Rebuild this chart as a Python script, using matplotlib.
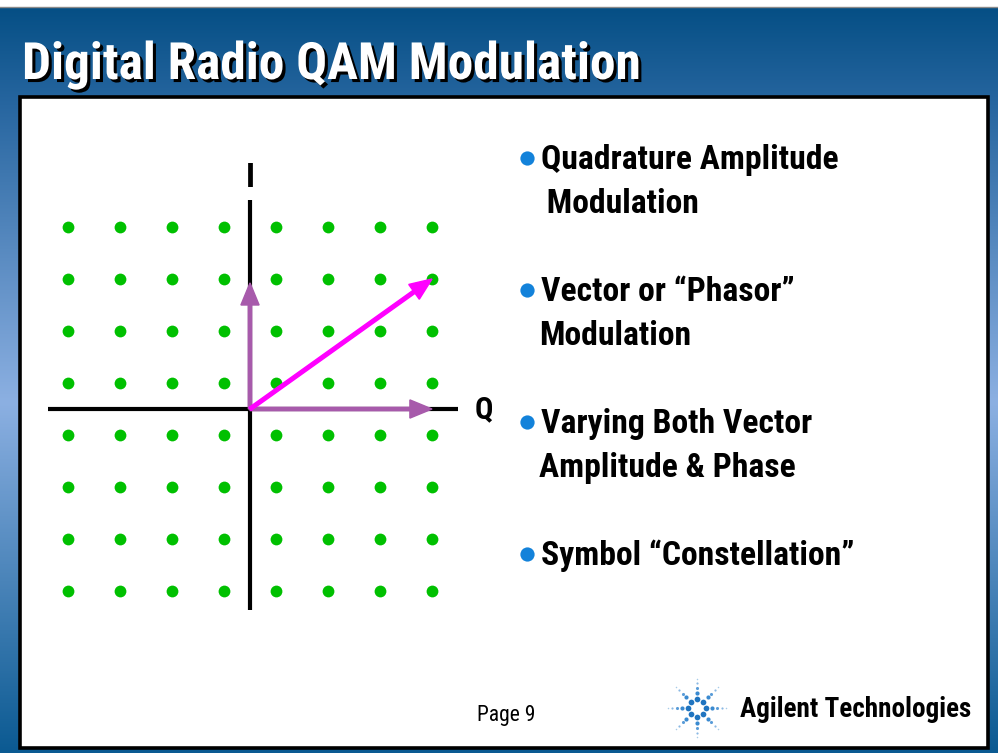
import numpy as np
import matplotlib
matplotlib.use("Agg")
import matplotlib.pyplot as plt
from matplotlib import font_manager
from matplotlib import patheffects as pe
from matplotlib.colors import LinearSegmentedColormap
from matplotlib.patches import Rectangle

# ── contenido ────────────────────────────────────────────────────────────────
TITULO   = "Digital Radio QAM Modulation"
NIVELES  = [-7, -5, -3, -1, 1, 3, 5, 7]      # niveles I / Q de la constelación 64-QAM
VEC_Q    = 7                                  # componente Q del vector
VEC_I    = 5                                  # componente I del vector
BULLETS  = [
    ["Quadrature Amplitude", " Modulation"],
    ["Vector or \u201cPhasor\u201d", "Modulation"],
    ["Varying Both Vector", "Amplitude & Phase"],
    ["Symbol \u201cConstellation\u201d"],
]
PAGINA   = "Page 9"
EMPRESA  = "Agilent Technologies"

W, H = 998, 753


def fuente(candidatas):
    for f in candidatas:
        try:
            font_manager.findfont(f, fallback_to_default=False)
            return f
        except Exception:
            pass
    return "DejaVu Sans"

NARROW = fuente(["Liberation Sans Narrow", "Roboto Condensed", "Liberation Sans"])

fig = plt.figure(figsize=(W / 100, H / 100), dpi=100)

# ── fondo en coordenadas de pixel ────────────────────────────────────────────
bg = fig.add_axes([0, 0, 1, 1])
bg.set_xlim(0, W)
bg.set_ylim(H, 0)
bg.axis("off")

cmap = LinearSegmentedColormap.from_list(
    "slide", [(0.0, "#054f85"), (0.13, "#2766a0"), (0.53, "#8cb0e2"), (1.0, "#0b5a92")])
grad = np.linspace(0, 1, 256).reshape(-1, 1)
bg.imshow(grad, cmap=cmap, extent=(0, W, H, 7), aspect="auto", zorder=0)
bg.add_patch(Rectangle((0, 0), W, 6, color="white", zorder=1))
bg.plot([0, W], [6.5, 6.5], color="#8a8a8a", lw=1, zorder=2)

# panel blanco
bg.add_patch(Rectangle((20, 97), 968, 651, facecolor="white", edgecolor="black",
                       linewidth=2.6, zorder=2))

# título con sombra
bg.text(22, 79, TITULO, color="white", fontsize=37, fontweight="bold", family=NARROW,
        va="baseline", ha="left", zorder=3,
        path_effects=[pe.withSimplePatchShadow(offset=(2.2, -2.2), shadow_rgbFace="black",
                                               alpha=1.0)])

# viñetas
bases = [[169, 213], [301, 345], [433, 477], [565]]
for lineas, ys in zip(BULLETS, bases):
    bg.scatter([527], [ys[0] - 11], s=105, color="#1382da", zorder=4, linewidths=0)
    for k, (txt, y) in enumerate(zip(lineas, ys)):
        x = 541 if k == 0 else 539
        bg.text(x, y, txt, fontsize=24.2, fontweight="bold", family=NARROW,
                va="baseline", ha="left", color="black", zorder=4)

# pie
bg.text(477, 721, PAGINA, fontsize=15.5, family=NARROW, va="baseline", ha="left", zorder=4)
bg.text(740, 717, EMPRESA, fontsize=19.5, fontweight="bold", family=NARROW,
        va="baseline", ha="left", zorder=4)

# logo tipo destello
cx, cy = 697, 708
for ang in np.arange(0, 360, 45):
    a = np.deg2rad(ang)
    for r, s, c in [(9, 17, "#1f74c0"), (15, 9, "#3a8ad0"), (20, 5, "#5a9cd8"),
                    (25, 2.5, "#8ab8e4"), (29, 1.2, "#a8cce8")]:
        bg.scatter([cx + r * np.cos(a)], [cy - r * np.sin(a)], s=s, color=c,
                   linewidths=0, zorder=4)

# ── constelación ─────────────────────────────────────────────────────────────
ox, oy, ppu = 250, 409, 26          # origen y pixeles por unidad
L, R, T, B = 30, 520, 140, 640
ax = fig.add_axes([L / W, 1 - B / H, (R - L) / W, (B - T) / H])
ax.set_xlim((L - ox) / ppu, (R - ox) / ppu)
ax.set_ylim((oy - B) / ppu, (oy - T) / ppu)
ax.axis("off")

qq, ii = np.meshgrid(NIVELES, NIVELES)
ax.scatter(qq.ravel(), ii.ravel(), s=72, color="#00c000", linewidths=0, zorder=2)

ax.plot([-7.77, 8.0], [0, 0], color="black", lw=3, solid_capstyle="butt", zorder=3)
ax.plot([0, 0], [-7.73, 8.04], color="black", lw=3, solid_capstyle="butt", zorder=3)
ax.text(0, 8.88, "I", fontsize=24, fontweight="bold", family=NARROW,
        ha="center", va="center")
ax.text(9.0, 0, "Q", fontsize=22, fontweight="bold", family=NARROW,
        ha="center", va="center")

morado = "#a75aab"
ax.arrow(0, 0, VEC_Q, 0, width=0.13, head_width=0.7, head_length=0.85,
         length_includes_head=True, color=morado, zorder=4)
ax.arrow(0, 0, 0, VEC_I - 0.15, width=0.13, head_width=0.7, head_length=0.85,
         length_includes_head=True, color=morado, zorder=4)
ax.arrow(0, 0, VEC_Q, VEC_I, width=0.14, head_width=0.7, head_length=0.85,
         length_includes_head=True, color="#ff00ff", zorder=5)

fig.savefig("out.png", dpi=100)
